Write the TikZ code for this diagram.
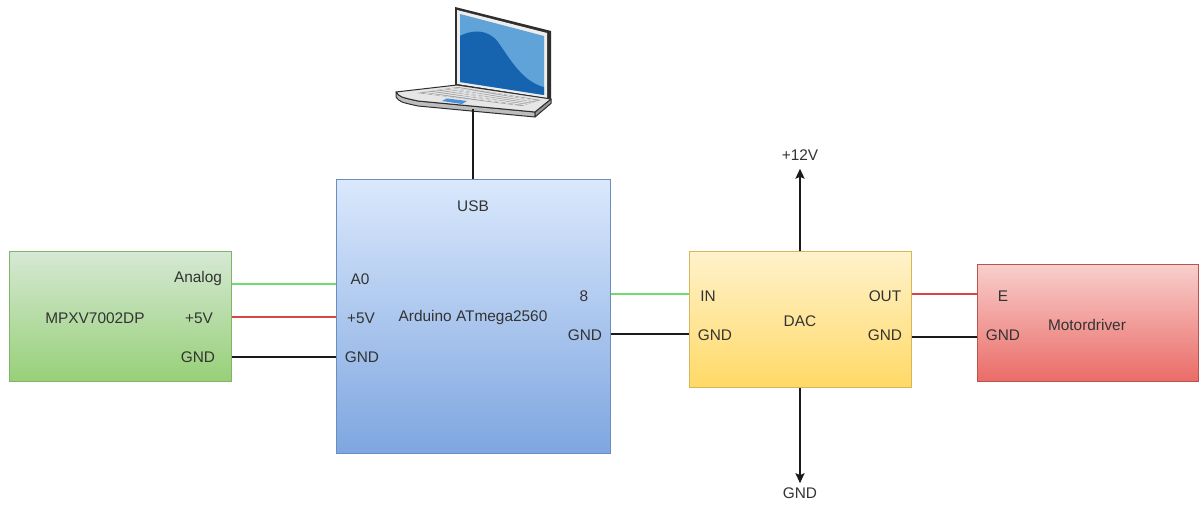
\documentclass[tikz,border=0pt]{standalone}
\usepackage{fontspec}
\setmainfont{Liberation Sans}
\usetikzlibrary{arrows.meta,calc}

\definecolor{txt}{HTML}{333333}
\definecolor{sensT}{HTML}{D5E8D4}\definecolor{sensB}{HTML}{97D077}\definecolor{sensS}{HTML}{82B366}
\definecolor{ardT}{HTML}{DAE8FC}\definecolor{ardB}{HTML}{7EA6E0}\definecolor{ardS}{HTML}{6C8EBF}
\definecolor{dacT}{HTML}{FFF2CC}\definecolor{dacB}{HTML}{FFD966}\definecolor{dacS}{HTML}{D6B656}
\definecolor{motT}{HTML}{F8CECC}\definecolor{motB}{HTML}{EA6B66}\definecolor{motS}{HTML}{B85450}
\definecolor{wgreen}{HTML}{6FDC6F}
\definecolor{wred}{HTML}{D94444}
\definecolor{wblack}{HTML}{1A1A1A}
\definecolor{lapdark}{HTML}{2E2E2E}
\definecolor{bezel}{HTML}{EDEDED}
\definecolor{scrlight}{HTML}{5FA3D8}
\definecolor{scrdark}{HTML}{1664B0}
\definecolor{deck}{HTML}{E6E6E6}
\definecolor{deckside}{HTML}{BDBDBD}
\definecolor{keys}{HTML}{A3A3A3}
\definecolor{pad}{HTML}{4A90D9}

\begin{document}
\begin{tikzpicture}[x=0.5pt,y=-0.5pt,
  lbl/.style={font=\fontsize{7.7}{9}\selectfont, text=txt, inner sep=0pt},
  block/.style={draw, line width=0.5pt, inner sep=0pt},
  wire/.style={line width=0.6pt},
  tip/.style={line width=0.6pt, draw=wblack, -{Stealth[length=5pt,width=4.6pt,inset=1pt]}}]

\useasboundingbox[fill=white] (0,0) rectangle (1200,507);

% ---------- blocks ----------
\node[block, draw=sensS, top color=sensT, bottom color=sensB,
      minimum width=111pt, minimum height=65pt] (sens) at (120,317) {};
\node[block, draw=ardS, top color=ardT, bottom color=ardB,
      minimum width=137pt, minimum height=137pt] (ard) at (473,317) {};
\node[block, draw=dacS, top color=dacT, bottom color=dacB,
      minimum width=111pt, minimum height=68pt] (dac) at (800,320) {};
\node[block, draw=motS, top color=motT, bottom color=motB,
      minimum width=110.5pt, minimum height=58.5pt] (mot) at (1087.5,323.5) {};

% ---------- labels ----------
\node[lbl] (sname) at (95,318) {MPXV7002DP};
\node[lbl] (san)   at (198,279) {Analog};
\node[lbl] (s5)    at (199,318) {+5V};
\node[lbl] (sg)    at (198,357) {GND};

\node[lbl] (usb)   at (473,206) {USB};
\node[lbl] (aa0)   at (360,279) {A0};
\node[lbl] (a5)    at (361,318) {+5V};
\node[lbl] (ag)    at (362,357) {GND};
\node[lbl] (aname) at (473,318) {Arduino ATmega2560};
\node[lbl] (a8)    at (584,296) {8};
\node[lbl] (ag2)   at (585,335) {GND};

\node[lbl] (din)   at (708,296) {IN};
\node[lbl] (dg)    at (715,335) {GND};
\node[lbl] (dname) at (800,321) {DAC};
\node[lbl] (dout)  at (885,296) {OUT};
\node[lbl] (dg2)   at (885,335) {GND};

\node[lbl] (me)    at (1003,296) {E};
\node[lbl] (mg)    at (1003,335) {GND};
\node[lbl] (mname) at (1087,325) {Motordriver};

\node[lbl] (v12)   at (800,155) {+12V};
\node[lbl] (gnd)   at (800,493) {GND};

% ---------- wire rows ----------
\coordinate (rAn) at (0,284);
\coordinate (rV)  at (0,317);
\coordinate (rG)  at (0,357);
\coordinate (rIn) at (0,294);
\coordinate (rG2) at (0,334);
\coordinate (rE)  at (0,294);
\coordinate (rG3) at (0,337);

\draw[wire, draw=wgreen] (sens.east |- rAn) -- (ard.west |- rAn);
\draw[wire, draw=wred]   (sens.east |- rV)  -- (ard.west |- rV);
\draw[wire, draw=wblack] (sens.east |- rG)  -- (ard.west |- rG);
\draw[wire, draw=wgreen] (ard.east |- rIn)  -- (dac.west |- rIn);
\draw[wire, draw=wblack] (ard.east |- rG2)  -- (dac.west |- rG2);
\draw[wire, draw=wred]   (dac.east |- rE)   -- (mot.west |- rE);
\draw[wire, draw=wblack] (dac.east |- rG3)  -- (mot.west |- rG3);

\draw[tip] (dac.north) -- ([yshift=-4pt]v12.south);
\draw[tip, shorten >=2pt] (dac.south) -- (gnd.north);

% ---------- laptop ----------
% lid
\fill[lapdark] (455,7) -- (551,31) -- (551,100) -- (455,86) -- cycle;
\fill[bezel] (457,10) -- (547,33) -- (547,98) -- (457,84) -- cycle;
\fill[scrlight] (460,14) -- (544,36) -- (544,95) -- (460,82) -- cycle;
\begin{scope}
  \clip (460,14) -- (544,36) -- (544,95) -- (460,82) -- cycle;
  \fill[scrdark] (458,37) .. controls (472,29) and (488,29) .. (498,42)
     .. controls (512,62) and (524,84) .. (548,88) -- (548,100) -- (456,88) -- cycle;
\end{scope}
% deck
\coordinate (dL)  at (396,92);
\coordinate (dBL) at (457,85);
\coordinate (dBR) at (551,99);
\coordinate (dFR) at (535,112);
\coordinate (dFL) at (418,101);
\fill[deckside, draw=lapdark, line width=0.5pt, line join=round]
  (dL) .. controls (400,97) .. (dFL) -- (dFR) -- ([yshift=-2.5pt]dFR)
  -- ([yshift=-2.5pt]dFL) .. controls ([yshift=-2.5pt]400,97) .. ([yshift=-2.5pt]dL) -- cycle;
\fill[deckside!80!black, draw=lapdark, line width=0.5pt, line join=round]
  (dFR) -- (dBR) -- ([yshift=-2.2pt]dBR) -- ([yshift=-2.5pt]dFR) -- cycle;
\fill[deck, draw=lapdark, line width=0.5pt, line join=round]
  (dL) -- (dBL) -- (dBR) -- (dFR) -- (dFL) .. controls (400,97) .. (dL) -- cycle;
% keyboard
\coordinate (kFL) at (417,93);
\coordinate (kBL) at (458,87);
\coordinate (kBR) at (541,100);
\coordinate (kFR) at (522,106);
\fill[keys] (kFL) -- (kBL) -- (kBR) -- (kFR) -- cycle;
\begin{scope}
  \clip (kFL) -- (kBL) -- (kBR) -- (kFR) -- cycle;
  \foreach \t in {0.2,0.4,0.6,0.8}
    \draw[deck, line width=0.45pt] ($(kFL)!\t!(kBL)$) -- ($(kFR)!\t!(kBR)$);
  \foreach \t in {0.07,0.14,...,0.95}
    \draw[deck, line width=0.35pt] ($(kFL)!\t!(kFR)$) -- ($(kBL)!\t!(kBR)$);
\end{scope}
% touchpad
\fill[pad] (442,101) -- (447,98.5) -- (467,101) -- (462,104) -- cycle;
\coordinate (laptop) at (473,109);

\draw[wire, draw=wblack] (laptop) -- (ard.north);
\end{tikzpicture}
\end{document}
